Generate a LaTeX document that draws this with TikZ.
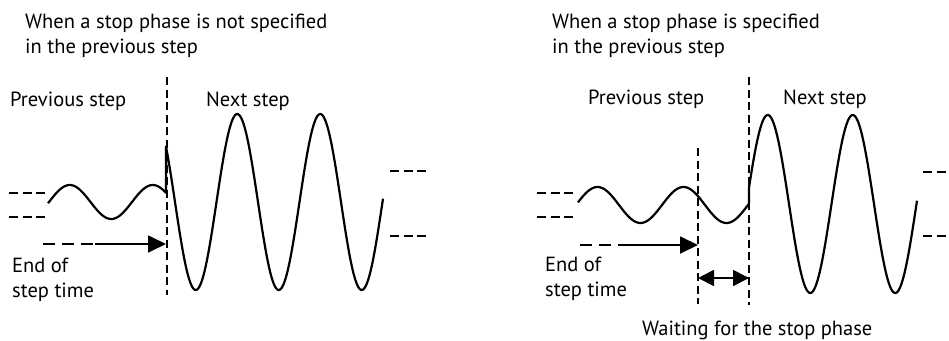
\documentclass[tikz,border=0pt]{standalone}
\usepackage{fontspec}
\setmainfont{PT Sans}
\usetikzlibrary{arrows.meta}
\tikzset{
  txt/.style={font=\fontsize{20.5}{25}\selectfont, inner sep=0pt, anchor=base west, align=left},
  wave/.style={line width=2.2pt, line join=round},
  guide/.style={line width=1.3pt, dash pattern=on 8pt off 4.5pt},
  level/.style={line width=1.3pt, dash pattern=on 9pt off 4.5pt},
  lead/.style={line width=1.4pt, dash pattern=on 12pt off 7pt},
  mark tip/.style={line width=1.8pt, -{Triangle[length=18pt,width=17pt]}},
  both tip/.style={line width=1.8pt, {Triangle[length=16pt,width=16pt]}-{Triangle[length=16pt,width=16pt]}}
}
\begin{document}
\begin{tikzpicture}[x=1pt, y=-1pt]
    \useasboundingbox (0,0) rectangle (949,340);

    \node[txt] (titleL) at (25,53) {When a stop phase is not specified\\in the previous step};
    \node[txt] (prevL) at (10,106) {Previous step};
    \node[txt] (nextL) at (206,106) {Next step};
    \node[txt] (endL) at (12,297) {End of\\step time};

    \coordinate (cutTopL) at (167,77);
    \coordinate (cutBotL) at (167,295);
    \draw[guide] (cutTopL) -- (cutBotL);

    \coordinate (hiA) at (9,193);   \coordinate (hiB) at (45,193);
    \coordinate (loA) at (9,217);   \coordinate (loB) at (45,217);
    \coordinate (hiC) at (390,171); \coordinate (hiD) at (427,171);
    \coordinate (loC) at (390,236); \coordinate (loD) at (427,236);
    \draw[level] (hiA) -- (hiB);
    \draw[level] (loA) -- (loB);
    \draw[level] (hiC) -- (hiD);
    \draw[level] (loC) -- (loD);

    \draw[wave] plot[domain=48:166, samples=90] (\x, {202-17*sin((\x-49)/83*360)})
      -- plot[domain=166:383, samples=180] (\x, {202+88*sin((\x-175)/83*360)});

    \coordinate (leadA) at (43,244);
    \coordinate (leadB) at (95,244);
    \coordinate (leadC) at (166,244);
    \draw[lead] (leadA) -- (leadB);
    \draw[mark tip] (leadB) -- (leadC);

    \node[txt] (titleR) at (552,53) {When a stop phase is specified\\in the previous step};
    \node[txt] (prevR) at (588,104) {Previous step};
    \node[txt] (nextR) at (783,104) {Next step};
    \node[txt] (endR) at (545,296) {End of\\step time};
    \node[txt] (waitR) at (642,335) {Waiting for the stop phase};

    \coordinate (cutTopR) at (749,77);
    \coordinate (cutBotR) at (749,305);
    \coordinate (stopTop) at (698,148);
    \coordinate (stopBot) at (698,304);
    \draw[guide] (cutTopR) -- (cutBotR);
    \draw[guide] (stopTop) -- (stopBot);

    \coordinate (hiE) at (537,193); \coordinate (hiF) at (573,193);
    \coordinate (loE) at (537,217); \coordinate (loF) at (573,217);
    \coordinate (hiG) at (923,172); \coordinate (hiH) at (965,172);
    \coordinate (loG) at (923,236); \coordinate (loH) at (965,236);
    \draw[level] (hiE) -- (hiF);
    \draw[level] (loE) -- (loF);
    \draw[level] (hiG) -- (hiH);
    \draw[level] (loG) -- (loH);

    \draw[wave] plot[domain=578:749, samples=120] (\x, {205-18*sin((\x-576)/86*360)})
      -- plot[domain=749:917, samples=150] (\x, {204-89*sin((\x-746.5)/85*360)});

    \coordinate (leadD) at (580,245);
    \coordinate (leadE) at (628,245);
    \draw[lead] (leadD) -- (leadE);
    \draw[mark tip] (leadE) -- (stopTop |- leadE);

    \draw[both tip] (stopTop |- 0,278) -- (cutTopR |- 0,278);
\end{tikzpicture}
\end{document}
